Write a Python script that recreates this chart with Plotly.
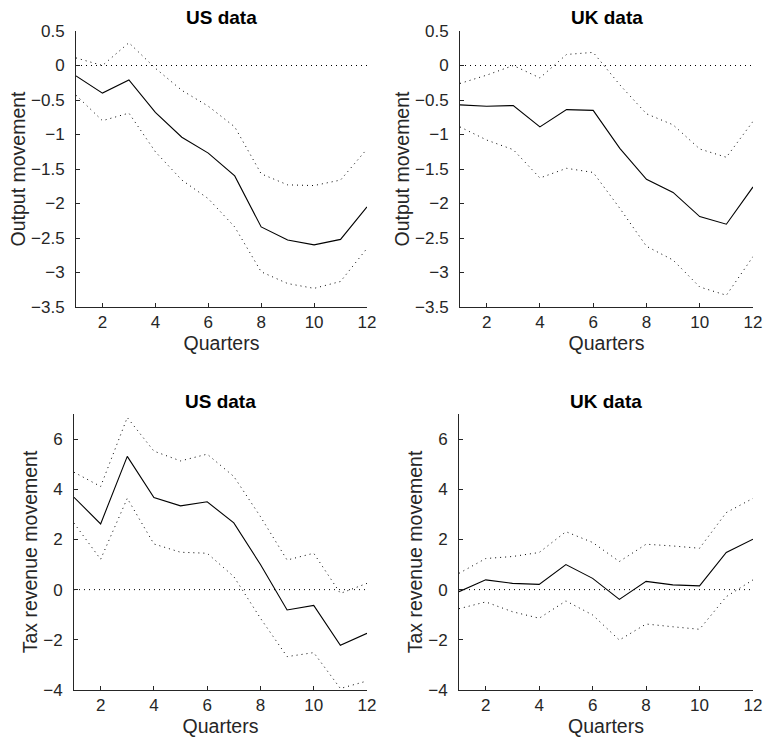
import plotly.graph_objects as go

quarters = list(range(1, 13))
x_ticks = [2, 4, 6, 8, 10, 12]

us_output = [-0.15, -0.40, -0.21, -0.68, -1.04, -1.27, -1.60, -2.34, -2.53, -2.60, -2.52, -2.05]
us_output_hi = [0.11, 0.00, 0.33, -0.04, -0.36, -0.59, -0.89, -1.57, -1.73, -1.74, -1.66, -1.21]
us_output_lo = [-0.43, -0.80, -0.69, -1.25, -1.66, -1.93, -2.34, -2.99, -3.16, -3.23, -3.13, -2.65]

uk_output = [-0.57, -0.59, -0.58, -0.89, -0.64, -0.65, -1.20, -1.65, -1.84, -2.19, -2.30, -1.76]
uk_output_hi = [-0.26, -0.14, 0.00, -0.18, 0.16, 0.19, -0.28, -0.70, -0.86, -1.21, -1.33, -0.81]
uk_output_lo = [-0.89, -1.08, -1.22, -1.63, -1.49, -1.55, -2.07, -2.62, -2.82, -3.21, -3.33, -2.77]

us_tax = [3.68, 2.62, 5.31, 3.67, 3.34, 3.50, 2.66, 1.00, -0.81, -0.63, -2.22, -1.74]
us_tax_hi = [4.68, 4.11, 6.86, 5.52, 5.13, 5.40, 4.51, 2.91, 1.18, 1.45, -0.15, 0.25]
us_tax_lo = [2.65, 1.21, 3.64, 1.82, 1.49, 1.45, 0.52, -1.14, -2.67, -2.51, -3.94, -3.64]

uk_tax = [-0.08, 0.39, 0.25, 0.21, 1.00, 0.45, -0.39, 0.33, 0.19, 0.15, 1.48, 2.01]
uk_tax_hi = [0.65, 1.24, 1.32, 1.48, 2.31, 1.88, 1.12, 1.81, 1.74, 1.65, 3.07, 3.64]
uk_tax_lo = [-0.76, -0.49, -0.88, -1.14, -0.45, -1.01, -2.01, -1.37, -1.48, -1.58, -0.28, 0.39]

zero_level = [0] * 12

panels = [
    ("US data", "Output movement", us_output, us_output_hi, us_output_lo, [-3.5, 0.5], [-3.5, -3, -2.5, -2, -1.5, -1, -0.5, 0, 0.5]),
    ("UK data", "Output movement", uk_output, uk_output_hi, uk_output_lo, [-3.5, 0.5], [-3.5, -3, -2.5, -2, -1.5, -1, -0.5, 0, 0.5]),
    ("US data", "Tax revenue movement", us_tax, us_tax_hi, us_tax_lo, [-4, 7], [-4, -2, 0, 2, 4, 6]),
    ("UK data", "Tax revenue movement", uk_tax, uk_tax_hi, uk_tax_lo, [-4, 7], [-4, -2, 0, 2, 4, 6]),
]

W, H = 764, 740
# pixel boxes (left, right, top, bottom)
boxes = [(76, 367, 31, 307), (460, 753, 31, 307), (74, 367, 414, 690), (459, 753, 414, 690)]

FONT = "Liberation Sans, Arial, Helvetica, sans-serif"
INK = "#262626"

fig = go.Figure()
layout = dict(
    width=W, height=H, margin=dict(l=0, r=0, t=0, b=0, autoexpand=False),
    paper_bgcolor="white", plot_bgcolor="white", showlegend=False,
    font=dict(family=FONT, color=INK, size=17),
)
annotations = []
for i, (title, ytitle, mid, hi, lo, yr, yt) in enumerate(panels):
    n = i + 1
    xa = "x" if n == 1 else f"x{n}"
    ya = "y" if n == 1 else f"y{n}"
    l, r, t, b = boxes[i]
    for vals, dash in [(zero_level, "1px,4px"), (hi, "1px,4px"), (lo, "1px,4px"), (mid, None)]:
        fig.add_trace(go.Scatter(
            x=quarters, y=vals, mode="lines", xaxis=xa, yaxis=ya,
            line=dict(color="black", width=1, dash=dash) if dash else dict(color="black", width=1.1),
            hoverinfo="skip",
        ))
    xkey = "xaxis" if n == 1 else f"xaxis{n}"
    ykey = "yaxis" if n == 1 else f"yaxis{n}"
    layout[xkey] = dict(
        domain=[l / W, r / W], anchor=ya, range=[1, 12], tickvals=x_ticks,
        automargin=False,
        showgrid=False, zeroline=False, showline=True, linecolor=INK, linewidth=1,
        ticks="inside", ticklen=4, tickcolor=INK, tickfont=dict(size=17, color=INK),
        title=dict(text="Quarters", font=dict(size=19.5, color=INK), standoff=2),
    )
    layout[ykey] = dict(
        domain=[1 - b / H, 1 - t / H], anchor=xa, range=yr, tickvals=yt,
        automargin=False,
        showgrid=False, zeroline=False, showline=True, linecolor=INK, linewidth=1,
        ticks="inside", ticklen=4, tickcolor=INK, tickfont=dict(size=17, color=INK),
        ticklabelstandoff=7,
        title=dict(text=ytitle, font=dict(size=19.5, color=INK), standoff=0),
    )
    annotations.append(dict(
        text=f"<b>{title}</b>", x=(l + r) / 2 / W, y=1 - (t - 13) / H,
        xref="paper", yref="paper", xanchor="center", yanchor="middle",
        showarrow=False, font=dict(size=19, color="black", family=FONT),
    ))
layout["annotations"] = annotations
fig.update_layout(**layout)
fig.write_html(
    "out.html",
    config={"displayModeBar": False},
    post_script="document.body.style.margin='0';document.body.style.overflow='hidden';",
)
